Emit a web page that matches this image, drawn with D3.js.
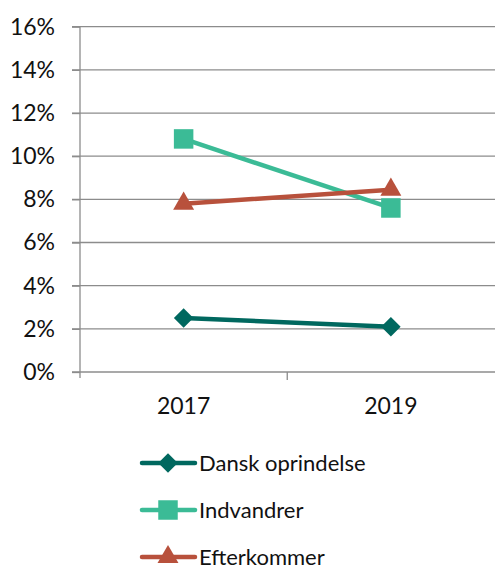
<!DOCTYPE html>
<html><head><meta charset="utf-8">
<script src="https://cdn.jsdelivr.net/npm/d3@7"></script>
<style>body{margin:0;background:#fff}svg{display:block}</style>
</head><body>
<script>
const categories = ["2017", "2019"];
const seriesNames = ["Dansk oprindelse", "Indvandrer", "Efterkommer"];
const dansk = [2.5, 2.1];
const indvandrer = [10.8, 7.6];
const efterkommer = [7.8, 8.45];
const yTicks = [0, 2, 4, 6, 8, 10, 12, 14, 16];

const W = 495, H = 570;
const m = {left: 80, right: 0, top: 27, bottom: 198};
const svg = d3.select("body").append("svg").attr("width", W).attr("height", H);
const font = "Lato, 'Open Sans', sans-serif";
const fs = 23;

const x = d3.scaleBand().domain(categories).range([m.left, W - 0.5]);
const y = d3.scaleLinear().domain([0, 16]).range([372, 26.7]);

// gridlines
svg.append("g").selectAll("line").data(yTicks).join("line")
  .attr("x1", 72).attr("x2", W).attr("y1", d => y(d)).attr("y2", d => y(d))
  .attr("stroke", "#8c8c8c").attr("stroke-width", 1.3);

// y axis
const ya = svg.append("g").attr("transform", `translate(${m.left},0)`)
  .call(d3.axisLeft(y).tickValues(yTicks).tickFormat(d => d + "%").tickSize(8).tickPadding(17));
ya.select(".domain").attr("stroke", "#8c8c8c").attr("stroke-width", 1.3).attr("d", `M0,${y(16)}V${y(0)+6}`);
ya.selectAll(".tick line").attr("stroke", "#8c8c8c").attr("stroke-width", 1.3);
ya.selectAll("text").attr("font-family", font).attr("font-size", fs).attr("fill", "#111");

// x axis
const xa = svg.append("g").attr("transform", `translate(0,${y(0)})`)
  .call(d3.axisBottom(x).tickSize(0).tickPadding(26));
xa.select(".domain").remove();
xa.selectAll("text").attr("font-family", font).attr("font-size", fs).attr("fill", "#111");
const bounds = [m.left, x("2019"), W];
svg.append("g").selectAll("line").data(bounds.slice(1, 2)).join("line")
  .attr("x1", d => d).attr("x2", d => d).attr("y1", y(0)).attr("y2", y(0) + 8)
  .attr("stroke", "#8c8c8c").attr("stroke-width", 1.3);

const series = [
  {name: seriesNames[0], values: dansk, color: "#00685f", sym: d3.symbolSquare, size: 190, rot: 45},
  {name: seriesNames[1], values: indvandrer, color: "#3bbb96", sym: d3.symbolSquare, size: 380, rot: 0},
  {name: seriesNames[2], values: efterkommer, color: "#b8513c", sym: d3.symbolTriangle, size: 190, rot: 0}
];
const cx = c => x(c) + x.bandwidth() / 2;
const line = d3.line().x((d, i) => cx(categories[i])).y(d => y(d));

series.forEach(s => {
  svg.append("path").attr("d", line(s.values)).attr("fill", "none")
    .attr("stroke", s.color).attr("stroke-width", 4.5).attr("stroke-linecap", "round");
  svg.append("g").selectAll("path").data(s.values).join("path")
    .attr("transform", (d, i) => `translate(${cx(categories[i])},${y(d)}) rotate(${s.rot})`)
    .attr("d", d3.symbol().type(s.sym).size(s.size)).attr("fill", s.color);
});

// legend
const lg = svg.append("g").selectAll("g").data(series).join("g")
  .attr("transform", (d, i) => `translate(0,${463 + i * 47})`);
lg.append("line").attr("x1", 142).attr("x2", 195).attr("y1", 0).attr("y2", 0)
  .attr("stroke", d => d.color).attr("stroke-width", 4.5).attr("stroke-linecap", "round");
lg.append("path").attr("transform", d => `translate(168,0) rotate(${d.rot})`)
  .attr("d", d => d3.symbol().type(d.sym).size(d.size)()).attr("fill", d => d.color);
lg.append("text").attr("x", 199).attr("y", 0).attr("dy", "0.35em")
  .attr("font-family", font).attr("font-size", 22).attr("fill", "#111").text(d => d.name);
</script>
</body></html>
